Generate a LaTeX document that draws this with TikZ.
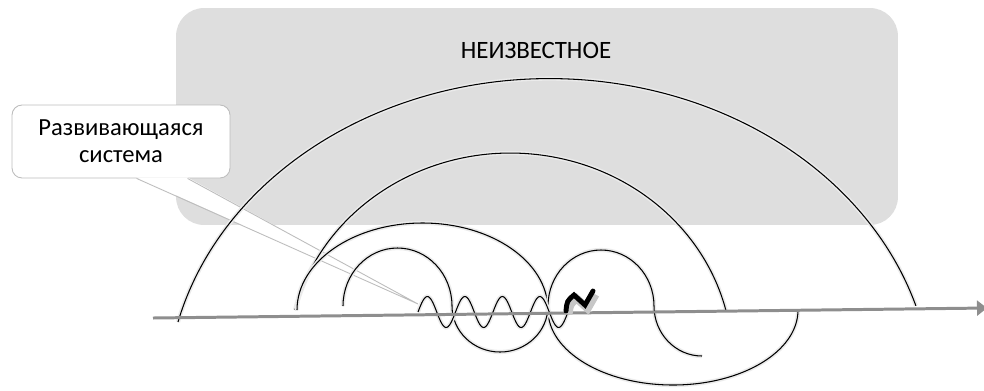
\documentclass[tikz,border=0pt]{standalone}
\usepackage{fontspec}
\setmainfont{Carlito}
\usetikzlibrary{positioning,arrows.meta,calc}

\definecolor{unkgray}{HTML}{DEDEDE}
\definecolor{axisgray}{HTML}{8E8E8E}
\definecolor{edgegray}{HTML}{BDBDBD}

\begin{document}
\begin{tikzpicture}[
  x=0.02cm, y=-0.02cm,
  unkbox/.style={fill=unkgray, rounded corners=0.56cm, minimum width=14.44cm, minimum height=4.34cm, inner sep=0pt},
  unklabel/.style={font=\fontsize{14.2}{17}\selectfont},
  callbox/.style={draw=edgegray, fill=white, rounded corners=0.2cm, minimum width=4.36cm, minimum height=1.46cm, align=center, line width=0.5pt, font=\fontsize{14}{15.5}\selectfont},
  wave/.style={draw=black, line width=0.6pt, preaction={draw=black!8, line width=2.4pt}},
  axisline/.style={draw=axisgray, line width=1.7pt, -{Triangle[length=0.2cm, width=0.3cm]}},
  tickmark/.style={draw=black, line width=2.8pt, line cap=round, line join=miter, preaction={draw=black!22, line width=4.5pt, transform canvas={shift={(1.5pt,-2pt)}}}}
]
\useasboundingbox (0,0) rectangle (984,390);

% Unknown area
\node[unkbox] (unk) at (537,116.5) {};
\node[unklabel] (unkname) at (536,50) {НЕИЗВЕСТНОЕ};

% Callout
\node[callbox] (sys) at (121,141.5) {Развивающаяся\\система};
\coordinate (tip) at (418,304);
\fill[white] ($(sys.south west)+(125,-1)$) -- (tip) -- ($(sys.south west)+(176,-1)$) -- cycle;
\draw[edgegray, line width=0.5pt] ($(sys.south west)+(125,0)$) -- (tip) -- ($(sys.south west)+(176,0)$);

% Outer arcs
\draw[wave] (178,322) arc[start angle=194, end angle=343, x radius=383, y radius=321];
\draw[wave] (295,310) arc[start angle=194, end angle=346, x radius=222, y radius=207];

% S-shaped arcs
\draw[wave] (297,310) arc[start angle=180, end angle=360, x radius=125.5, y radius=87]
  arc[start angle=180, end angle=0, x radius=125, y radius=75];
\draw[wave] (343,306) arc[start angle=180, end angle=360, x radius=54.5, y radius=58]
  arc[start angle=180, end angle=0, x radius=48, y radius=46]
  arc[start angle=180, end angle=360, x radius=53, y radius=56]
  arc[start angle=180, end angle=90, x radius=48, y radius=50];

% Small wave
\draw[wave] plot[domain=0:4, samples=120, smooth] ({418+37.5*\x}, {312-15.5*sin(360*\x)});

% Axis
\coordinate (axstart) at (153,318);
\coordinate (axend) at (987,308);
\draw[axisline] (axstart) -- (axend);

% Mark
\draw[tickmark] (566,311) .. controls (567,301) .. (574,295) -- (585,305) -- (593,291);

\end{tikzpicture}
\end{document}
